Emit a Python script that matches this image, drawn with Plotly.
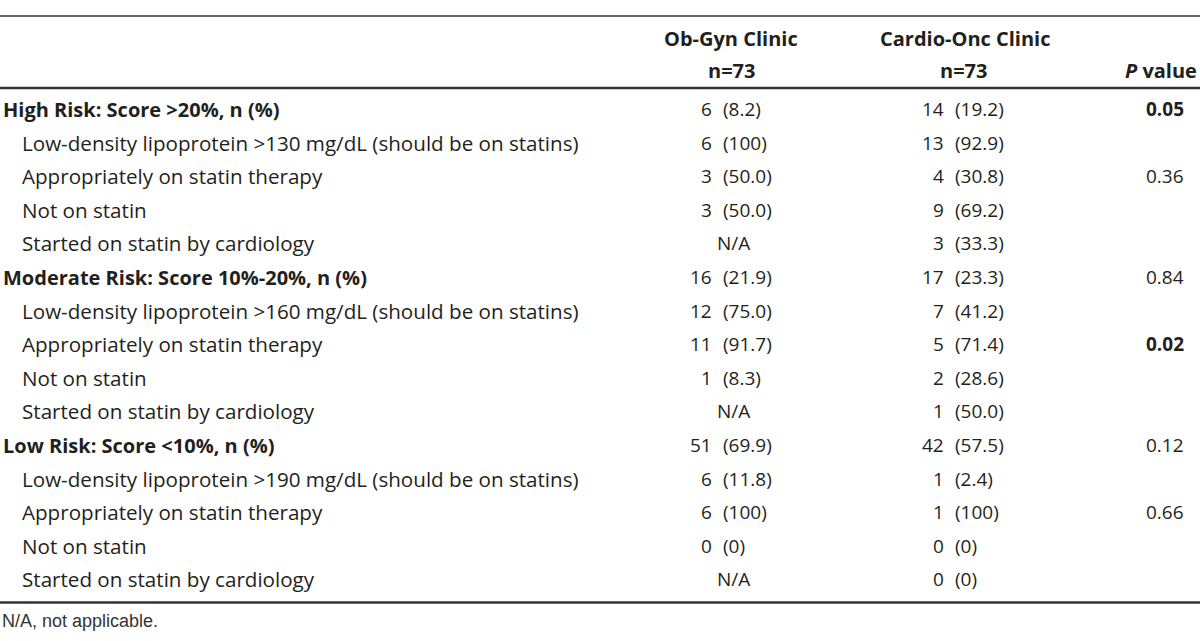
import plotly.graph_objects as go

# ---- data ----
row_labels = [
    "High Risk: Score &gt;20%, n (%)",
    "Low-density lipoprotein &gt;130 mg/dL (should be on statins)",
    "Appropriately on statin therapy",
    "Not on statin",
    "Started on statin by cardiology",
    "Moderate Risk: Score 10%-20%, n (%)",
    "Low-density lipoprotein &gt;160 mg/dL (should be on statins)",
    "Appropriately on statin therapy",
    "Not on statin",
    "Started on statin by cardiology",
    "Low Risk: Score &lt;10%, n (%)",
    "Low-density lipoprotein &gt;190 mg/dL (should be on statins)",
    "Appropriately on statin therapy",
    "Not on statin",
    "Started on statin by cardiology",
]
row_is_heading = [True, False, False, False, False,
                  True, False, False, False, False,
                  True, False, False, False, False]
obgyn = ["6 (8.2)", "6 (100)", "3 (50.0)", "3 (50.0)", "N/A",
         "16 (21.9)", "12 (75.0)", "11 (91.7)", "1 (8.3)", "N/A",
         "51 (69.9)", "6 (11.8)", "6 (100)", "0 (0)", "N/A"]
cardio = ["14 (19.2)", "13 (92.9)", "4 (30.8)", "9 (69.2)", "3 (33.3)",
          "17 (23.3)", "7 (41.2)", "5 (71.4)", "2 (28.6)", "1 (50.0)",
          "42 (57.5)", "1 (2.4)", "1 (100)", "0 (0)", "0 (0)"]
p_values = ["0.05", "", "0.36", "", "", "0.84", "", "0.02", "", "",
            "0.12", "", "0.66", "", ""]
p_bold = ["0.05", "0.02"]
col_headers = ["Ob-Gyn Clinic", "Cardio-Onc Clinic"]
col_n = ["n=73", "n=73"]
footnote = "N/A, not applicable."

# ---- layout constants ----
W, H = 1200, 641
FONT = "Open Sans"
FS_HEAD = 20
FS_SUB = 20.6
FS_NUM = 19
TXT = "#231f20"
LINE = "#333333"
row_y0, row_dy = 109, 33.6
x_label_head, x_label_sub = 1, 20
obgyn_split = (714, 721)
cardio_split = (946, 953)
obgyn_center, cardio_center = 733, 963
p_center = 1165

fig = go.Figure()
ann = []

def add(text, x, y, anchor="left", bold=False, size=FS_HEAD, family=FONT, color=TXT):
    t = f"<b>{text}</b>" if bold else text
    ann.append(dict(text=t, x=x, y=y, xref="x", yref="y", xanchor=anchor,
                    yanchor="middle", showarrow=False,
                    font=dict(family=family, size=size, color=color)))

# header
add(col_headers[0], obgyn_center - 2, 38, "center", bold=True)
add(col_headers[1], cardio_center + 2, 38, "center", bold=True)
add(col_n[0], obgyn_center - 2, 70, "center", bold=True)
add(col_n[1], cardio_center, 70, "center", bold=True)
add("<i>P</i> value", 1199, 70, "right", bold=True)

def add_cell(val, split, center, y):
    if " " in val:
        cnt, pct = val.split(" ", 1)
        add(cnt, split[0], y, "right", size=FS_NUM)
        add(pct, split[1], y, "left", size=FS_NUM)
    else:
        add(val, center, y, "center", size=FS_NUM)

for i, lab in enumerate(row_labels):
    y = row_y0 + i * row_dy
    if row_is_heading[i]:
        add(lab, x_label_head, y, "left", bold=True, size=FS_HEAD)
    else:
        add(lab, x_label_sub, y, "left", size=FS_SUB)
    add_cell(obgyn[i], obgyn_split, obgyn_center, y)
    add_cell(cardio[i], cardio_split, cardio_center, y)
    if p_values[i]:
        add(p_values[i], p_center, y, "center", bold=p_values[i] in p_bold, size=FS_NUM)

last_y = row_y0 + (len(row_labels) - 1) * row_dy
add(footnote, 0, last_y + 42, "left", size=18, family="Liberation Sans", color="#333333")

shapes = [
    dict(type="line", x0=0, x1=W, y0=16, y1=16, xref="x", yref="y",
         line=dict(color=LINE, width=1.5)),
    dict(type="line", x0=0, x1=W, y0=88, y1=88, xref="x", yref="y",
         line=dict(color=LINE, width=2.5)),
    dict(type="line", x0=0, x1=W, y0=last_y + 23, y1=last_y + 23, xref="x", yref="y",
         line=dict(color=LINE, width=2.5)),
]

fig.update_layout(
    width=W, height=H,
    margin=dict(l=0, r=0, t=0, b=0),
    paper_bgcolor="white", plot_bgcolor="white",
    xaxis=dict(range=[0, W], visible=False, fixedrange=True),
    yaxis=dict(range=[H, 0], visible=False, fixedrange=True),
    annotations=ann, shapes=shapes, showlegend=False,
)
fig.write_html(
    "out.html",
    config={"displayModeBar": False},
    post_script="document.body.style.margin='0';document.body.style.overflow='hidden';",
)
